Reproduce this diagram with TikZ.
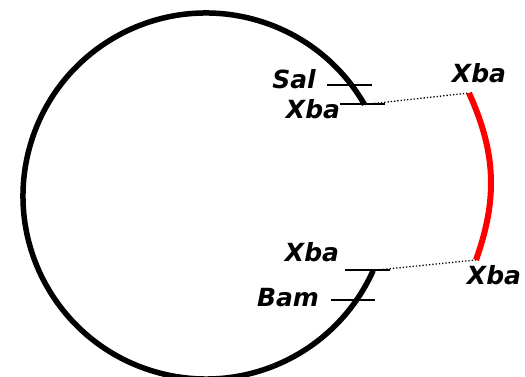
\documentclass[tikz,border=0pt]{standalone}
\usepackage{fontspec}
\setsansfont{DejaVu Sans}
\begin{document}
\begin{tikzpicture}[x=1pt, y=1pt, line cap=butt,
		every node/.style={font=\sffamily\bfseries\itshape\fontsize{25}{25}\selectfont, inner sep=0pt},
		cut/.style={line width=1.4pt}]
	\useasboundingbox (0,0) rectangle (525,377);
	
	% 质粒骨架 (开口在右侧)
	\coordinate (o) at (206,181);
	\path (o) ++(30:183) coordinate (xu);
	\draw[line width=5.5pt] (xu) arc[start angle=30, end angle=336, radius=183] coordinate (xl);
	
	% 酶切位点
	\draw[cut] (327,292) -- (372,292);
	\draw[cut] (340,273) -- (385,273);
	\draw[cut] (345,107) -- (390,107);
	\draw[cut] (331,77) -- (375,77);
	\node (sal) at (294,298) {Sal};
	\node (xbaA) at (313,268) {Xba};
	\node (xbaC) at (312,125) {Xba};
	\node (bam) at (288,79) {Bam};
	
	% 插入片段
	\coordinate (ru) at (469,284);
	\coordinate (rl) at (476,117);
	\draw[red, line width=6pt] (ru) to[bend left=22] (rl);
	\node (xbaB) at (479,304) {Xba};
	\node (xbaD) at (494,102) {Xba};
	
	% 连接虚线
	\draw[dotted, line width=1.3pt] (xu) -- (ru);
	\draw[dotted, line width=1.3pt] (xl) -- (rl);
\end{tikzpicture}
\end{document}
